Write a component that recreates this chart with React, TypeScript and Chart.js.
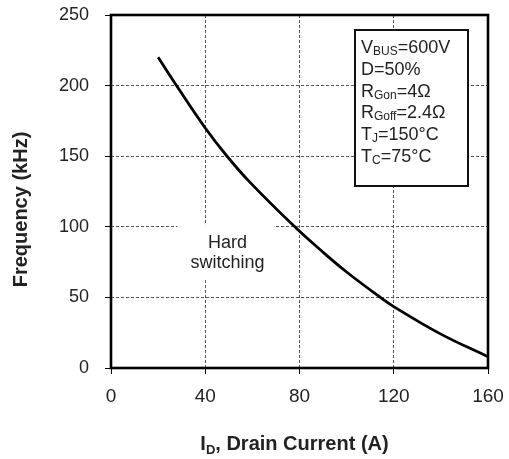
import { useEffect, useRef } from "react";
import { Chart, registerables } from "chart.js";

Chart.register(...registerables);

// ---- data ----
const drainCurrentA = [20, 28, 40, 49, 58.7, 78, 90, 100, 113.5, 120, 140, 160];
const frequencyKHz = [220, 199.5, 170, 150.5, 132, 100, 82, 68, 51, 43.5, 24, 8];
const xTickValues = [0, 40, 80, 120, 160];
const yTickValues = [0, 50, 100, 150, 200, 250];
const yAxisTitle = "Frequency (kHz)";
const xAxisTitleParts = ["I", "D", ", Drain Current (A)"];
const regionLabel = ["Hard", "switching"];
const regionLabelAt = [49.4, 81.3];
const conditionLines: [string, string, string][] = [
  ["V", "BUS", "=600V"],
  ["D=50%", "", ""],
  ["R", "Gon", "=4Ω"],
  ["R", "Goff", "=2.4Ω"],
  ["T", "J", "=150°C"],
  ["T", "C", "=75°C"],
];

const FONT = "'Liberation Sans', Arial, Helvetica, sans-serif";

const decorPlugin = {
  id: "decor",
  beforeDatasetsDraw(chart: any) {
    const { ctx, chartArea, scales } = chart;
    const x = scales.x;
    const y = scales.y;
    ctx.save();
    // white patch behind region label
    const cx = x.getPixelForValue(regionLabelAt[0]);
    const cy = y.getPixelForValue(regionLabelAt[1]);
    ctx.fillStyle = "#ffffff";
    ctx.fillRect(cx - 50, cy - 28, 98, 55);
    ctx.fillStyle = "#222";
    ctx.font = `18px ${FONT}`;
    ctx.textAlign = "center";
    ctx.textBaseline = "middle";
    ctx.fillText(regionLabel[0], cx, cy - 10);
    ctx.fillText(regionLabel[1], cx, cy + 10);

    // conditions box
    const bw = 113;
    const bh = 156;
    const bx = chartArea.right - 20 - bw;
    const by = chartArea.top + 15;
    ctx.fillStyle = "#ffffff";
    ctx.fillRect(bx, by, bw, bh);
    ctx.strokeStyle = "#111";
    ctx.lineWidth = 2;
    ctx.strokeRect(bx, by, bw, bh);
    ctx.fillStyle = "#222";
    ctx.textAlign = "left";
    ctx.textBaseline = "alphabetic";
    conditionLines.forEach((parts, i) => {
      let tx = bx + 6;
      const base = by + 23 + i * 21.8;
      ctx.font = `18px ${FONT}`;
      ctx.fillText(parts[0], tx, base);
      tx += ctx.measureText(parts[0]).width;
      if (parts[1]) {
        ctx.font = `12px ${FONT}`;
        ctx.fillText(parts[1], tx, base + 2);
        tx += ctx.measureText(parts[1]).width;
      }
      if (parts[2]) {
        ctx.font = `18px ${FONT}`;
        ctx.fillText(parts[2], tx, base);
      }
    });
    ctx.restore();
  },
  afterDraw(chart: any) {
    const { ctx, chartArea } = chart;
    ctx.save();
    // frame
    ctx.strokeStyle = "#000";
    ctx.lineWidth = 2.6;
    ctx.strokeRect(
      chartArea.left,
      chartArea.top,
      chartArea.right - chartArea.left,
      chartArea.bottom - chartArea.top
    );
    // y title
    ctx.fillStyle = "#222";
    ctx.font = `bold 20px ${FONT}`;
    ctx.textAlign = "center";
    ctx.textBaseline = "middle";
    ctx.translate(21, (chartArea.top + chartArea.bottom) / 2 + 18);
    ctx.rotate(-Math.PI / 2);
    ctx.fillText(yAxisTitle, 0, 0);
    ctx.restore();

    // x title with subscript
    ctx.save();
    ctx.fillStyle = "#222";
    ctx.textBaseline = "alphabetic";
    ctx.textAlign = "left";
    const big = `bold 20px ${FONT}`;
    const small = `bold 13px ${FONT}`;
    ctx.font = big;
    const w0 = ctx.measureText(xAxisTitleParts[0]).width;
    const w2 = ctx.measureText(xAxisTitleParts[2]).width;
    ctx.font = small;
    const w1 = ctx.measureText(xAxisTitleParts[1]).width;
    const total = w0 + w1 + w2;
    const centerX = (chartArea.left + chartArea.right) / 2 - 5;
    let tx = centerX - total / 2;
    const base = chartArea.bottom + 82;
    ctx.font = big;
    ctx.fillText(xAxisTitleParts[0], tx, base);
    tx += w0;
    ctx.font = small;
    ctx.fillText(xAxisTitleParts[1], tx, base + 4);
    tx += w1;
    ctx.font = big;
    ctx.fillText(xAxisTitleParts[2], tx, base);
    ctx.restore();
  },
};

export default function App() {
  const canvasRef = useRef<HTMLCanvasElement | null>(null);

  useEffect(() => {
    const canvas = canvasRef.current;
    if (!canvas) return;
    const gridCommon = {
      color: "#555",
      lineWidth: 1,
      drawTicks: true,
      tickLength: 6,
      tickColor: "#000",
      tickWidth: 1,
      tickBorderDash: [],
    };
    const borderCommon = { display: false, dash: [3, 2] };
    const chart = new Chart(canvas, {
      type: "line",
      data: {
        datasets: [
          {
            data: drainCurrentA.map((v, i) => ({ x: v, y: frequencyKHz[i] })),
            borderColor: "#000",
            borderWidth: 2.8,
            pointRadius: 0,
            fill: false,
            tension: 0.4,
          },
        ],
      },
      options: {
        responsive: false,
        animation: false,
        devicePixelRatio: 1,
        layout: { padding: { left: 0, right: 21, top: 15, bottom: 0 } },
        plugins: {
          legend: { display: false },
          tooltip: { enabled: false },
        },
        scales: {
          x: {
            type: "linear",
            min: 0,
            max: 160,
            afterBuildTicks: (s: any) => {
              s.ticks = xTickValues.map((v) => ({ value: v }));
            },
            afterFit: (s: any) => {
              s.height = 91;
              s.paddingLeft = 0;
              s.paddingRight = 0;
            },
            grid: gridCommon as any,
            border: borderCommon as any,
            ticks: {
              font: { family: FONT, size: 19 },
              color: "#222",
              padding: 11,
              maxRotation: 0,
            },
          },
          y: {
            type: "linear",
            min: 0,
            max: 250,
            afterBuildTicks: (s: any) => {
              s.ticks = yTickValues.map((v) => ({ value: v }));
            },
            afterFit: (s: any) => {
              s.width = 111;
              s.paddingTop = 0;
              s.paddingBottom = 0;
            },
            grid: gridCommon as any,
            border: borderCommon as any,
            ticks: {
              font: { family: FONT, size: 18 },
              color: "#222",
              padding: 16,
            },
          },
        },
      },
      plugins: [decorPlugin],
    } as any);
    return () => chart.destroy();
  }, []);

  return (
    <div style={{ position: "absolute", left: 0, top: 0, width: 509, height: 459, background: "#fff" }}>
      <canvas ref={canvasRef} width={509} height={459} style={{ display: "block" }} />
    </div>
  );
}
